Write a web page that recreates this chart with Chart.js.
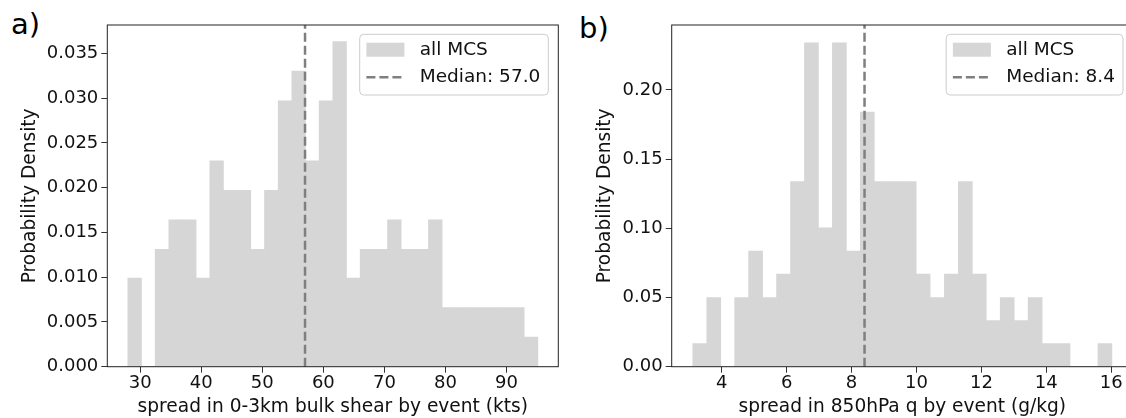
<!DOCTYPE html>
<html>
<head>
<meta charset="utf-8">
<script src="https://cdn.jsdelivr.net/npm/chart.js@4.4.1/dist/chart.umd.min.js"></script>
<style>
  html, body { margin: 0; padding: 0; background: #fff; overflow: hidden; width: 1126px; height: 418px; }
  canvas { position: absolute; top: 0; }
  .tag { position: absolute; font-family: "DejaVu Sans"; font-size: 29px; line-height: 29px; color: #000; }
</style>
</head>
<body>
<div class="tag" style="left:11px; top:10px;">a)</div>
<div class="tag" style="left:579px; top:14px;">b)</div>
<canvas id="shearChart" width="570" height="418" style="left:0px"></canvas>
<canvas id="qChart" width="580" height="418" style="left:570px"></canvas>
<script>
// panel a) - 0-3km bulk shear spread
const shearEdges = [27.97, 30.21, 32.45, 34.69, 36.93, 39.16, 41.40, 43.64, 45.88, 48.12, 50.36,
  52.60, 54.84, 57.07, 59.31, 61.55, 63.79, 66.03, 68.27, 70.51, 72.75, 74.99, 77.22, 79.46,
  81.70, 83.94, 86.18, 88.42, 90.66, 92.90, 95.14];
const shearDensity = [0.0099, 0, 0.0131, 0.0164, 0.0164, 0.0099, 0.0230, 0.0197, 0.0197, 0.0131,
  0.0197, 0.0297, 0.0330, 0.0230, 0.0297, 0.0363, 0.0099, 0.0131, 0.0131, 0.0164, 0.0131, 0.0131,
  0.0164, 0.0066, 0.0066, 0.0066, 0.0066, 0.0066, 0.0066, 0.0033];
const shearMedian = 57.0;
const shearXTicks = [30, 40, 50, 60, 70, 80, 90];
const shearYTicks = [0, 0.005, 0.010, 0.015, 0.020, 0.025, 0.030, 0.035];

// panel b) - 850hPa q spread
const qEdges = [3.11, 3.54, 3.97, 4.40, 4.83, 5.26, 5.69, 6.12, 6.55, 6.98, 7.41, 7.84, 8.27,
  8.70, 9.13, 9.56, 9.99, 10.42, 10.86, 11.29, 11.72, 12.15, 12.58, 13.01, 13.44, 13.87, 14.30,
  14.73, 15.16, 15.59, 16.02];
const qDensity = [0.0167, 0.0500, 0, 0.0500, 0.0836, 0.0500, 0.0669, 0.1338, 0.2341, 0.1003,
  0.2341, 0.0836, 0.1840, 0.1338, 0.1338, 0.1338, 0.0669, 0.0500, 0.0669, 0.1338, 0.0669, 0.0334,
  0.0500, 0.0334, 0.0500, 0.0167, 0.0167, 0, 0, 0.0167];
const qMedian = 8.4;
const qXTicks = [4, 6, 8, 10, 12, 14, 16];
const qYTicks = [0, 0.05, 0.10, 0.15, 0.20];

const FONT = "DejaVu Sans";
const BAR_COLOR = '#d6d6d6';
const MEDIAN_COLOR = '#7f7f7f';

// axes box + legend in the upper right corner, matplotlib style
const framePlugin = {
  id: 'frame',
  afterDraw(chart) {
    const ctx = chart.ctx;
    const a = chart.chartArea;
    ctx.save();
    ctx.strokeStyle = '#222';
    ctx.lineWidth = 1;
    ctx.strokeRect(a.left, a.top, a.right - a.left, a.bottom - a.top);

    // legend
    const sets = chart.data.datasets;
    const barSet = sets.find(d => d.type === 'bar');
    const lineSet = sets.find(d => d.type === 'line');
    ctx.font = '18.5px "' + FONT + '"';
    const textW = Math.max(ctx.measureText(barSet.label).width, ctx.measureText(lineSet.label).width);
    const w = 60 + textW + 8;
    const h = 60.7;
    const x0 = a.right - 10 - w;
    const y0 = a.top + 9.3;
    ctx.beginPath();
    ctx.roundRect(x0, y0, w, h, 4);
    ctx.fillStyle = 'rgba(255,255,255,0.8)';
    ctx.fill();
    ctx.strokeStyle = '#cccccc';
    ctx.stroke();

    ctx.fillStyle = BAR_COLOR;
    ctx.fillRect(x0 + 6.7, y0 + 8.4, 38, 14);
    ctx.beginPath();
    ctx.setLineDash([9, 4]);
    ctx.strokeStyle = MEDIAN_COLOR;
    ctx.lineWidth = 2.5;
    ctx.moveTo(x0 + 6.7, y0 + 43);
    ctx.lineTo(x0 + 44.7, y0 + 43);
    ctx.stroke();
    ctx.setLineDash([]);

    ctx.fillStyle = '#111';
    ctx.textBaseline = 'middle';
    ctx.textAlign = 'left';
    ctx.fillText(barSet.label, x0 + 60, y0 + 15.7);
    ctx.fillText(lineSet.label, x0 + 60, y0 + 43);
    ctx.restore();
  }
};

function createHistogram(canvasId, cfg) {
  const ctx = document.getElementById(canvasId).getContext('2d');

  const bars = cfg.density.map((d, i) => ({ x: (cfg.edges[i] + cfg.edges[i + 1]) / 2, y: d }));

  const chart = new Chart(ctx, {
    data: {
      datasets: [
        {
          type: 'line',
          label: 'Median: ' + cfg.median.toFixed(1),
          data: [{ x: cfg.median, y: 0 }, { x: cfg.median, y: cfg.yMax }],
          borderColor: MEDIAN_COLOR,
          borderWidth: 2.5,
          borderDash: [9, 4],
          pointRadius: 0,
          order: 0
        },
        {
          type: 'bar',
          label: 'all MCS',
          data: bars,
          backgroundColor: BAR_COLOR,
          borderWidth: 0,
          barPercentage: 1,
          categoryPercentage: 1,
          order: 1
        }
      ]
    },
    options: {
      responsive: false,
      animation: false,
      events: [],
      layout: { padding: { left: 0, top: 25, right: cfg.padRight, bottom: 0 } },
      plugins: { legend: { display: false }, tooltip: { enabled: false } },
      scales: {
        x: {
          type: 'linear',
          offset: false,
          min: cfg.xMin,
          max: cfg.xMax,
          afterBuildTicks: s => { s.ticks = cfg.xTicks.map(v => ({ value: v })); },
          afterFit: s => { s.height = 51.3; },
          grid: { offset: false, drawOnChartArea: false, drawTicks: true, tickLength: 6, tickColor: '#333' },
          border: { display: false },
          ticks: {
            color: '#111', padding: 1.5, maxRotation: 0, autoSkip: false,
            font: { family: FONT, size: 18, lineHeight: 1 },
            callback: v => String(v)
          },
          title: {
            display: true, text: cfg.xTitle, color: '#111',
            font: { family: FONT, size: 18.6, lineHeight: 1 },
            padding: { top: 0, bottom: 2 }
          }
        },
        y: {
          min: 0,
          max: cfg.yMax,
          afterBuildTicks: s => { s.ticks = cfg.yTicks.map(v => ({ value: v })); },
          afterFit: s => { s.width = cfg.yWidth; },
          grid: { drawOnChartArea: false, drawTicks: true, tickLength: 6, tickColor: '#333' },
          border: { display: false },
          ticks: {
            color: '#111', padding: 3, autoSkip: false,
            font: { family: FONT, size: 18, lineHeight: 1 },
            callback: v => v.toFixed(cfg.yDecimals)
          },
          title: {
            display: true, text: 'Probability Density', color: '#111',
            font: { family: FONT, size: 18.6, lineHeight: 1 },
            padding: { top: cfg.yTitlePad, bottom: 0 }
          }
        }
      }
    },
    plugins: [framePlugin]
  });
  return chart;
}

createHistogram('shearChart', {
  edges: shearEdges, density: shearDensity, median: shearMedian,
  xTicks: shearXTicks, yTicks: shearYTicks, yDecimals: 3,
  xMin: 24.61, xMax: 98.49, yMax: 0.03816,
  yWidth: 107.3, padRight: 11.7, yTitlePad: 20.75,
  xTitle: 'spread in 0-3km bulk shear by event (kts)'
});

createHistogram('qChart', {
  edges: qEdges, density: qDensity, median: qMedian,
  xTicks: qXTicks, yTicks: qYTicks, yDecimals: 2,
  xMin: 2.46, xMax: 16.67, yMax: 0.2469,
  yWidth: 101.7, padRight: 17, yTitlePad: 25.75,
  xTitle: 'spread in 850hPa q by event (g/kg)'
});
</script>
</body>
</html>
